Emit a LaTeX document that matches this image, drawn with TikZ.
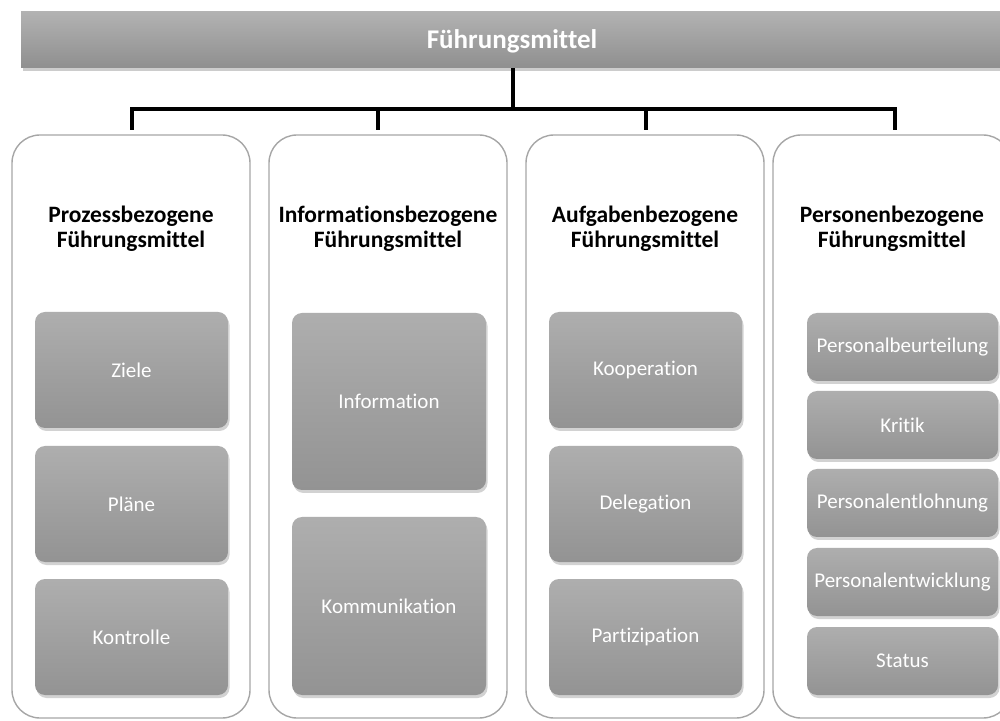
\documentclass[tikz,border=0pt]{standalone}
\usepackage{fontspec}
\setmainfont{Carlito}[Ligatures={NoCommon}]
\usetikzlibrary{shadows}
\definecolor{colborder}{HTML}{A6A6A6}
\definecolor{itemtop}{HTML}{AEAEAE}
\definecolor{itembot}{HTML}{939393}
\definecolor{bartop}{HTML}{B2B2B2}
\definecolor{barbot}{HTML}{8F8F8F}
\tikzset{
  x=1pt, y=1pt,
  colbox/.style={draw=colborder, line width=1.4pt, rounded corners=28pt, fill=white,
    minimum width=238pt, minimum height=583pt, inner sep=0pt},
  coltitle/.style={align=center, inner sep=0pt, text=black,
    font=\fontsize{23.5}{25}\selectfont\bfseries},
  item/.style={rounded corners=10pt, top color=itemtop, bottom color=itembot,
    text=white, inner sep=0pt, font=\fontsize{21}{24}\selectfont,
    drop shadow={shadow xshift=1.5pt, shadow yshift=-3pt, opacity=0.35}},
  topbar/.style={top color=bartop, bottom color=barbot, inner sep=0pt,
    minimum width=990pt, minimum height=56pt,
    drop shadow={shadow xshift=1.5pt, shadow yshift=-3pt, opacity=0.4}},
  toplabel/.style={text=white, inner sep=0pt, font=\fontsize{27}{30}\selectfont\bfseries},
  conn/.style={draw=black, line width=3.5pt}
}
\begin{document}
\begin{tikzpicture}
\clip (0,0) rectangle (1000,720);
\fill[white] (0,0) rectangle (1000,720);

% top bar
\node[topbar] (top) at (516,680) {};
\node[toplabel] (toplbl) at (512,679) {Führungsmittel};

% columns
\node[colbox] (c1) at (131,293.5) {};
\node[colbox] (c2) at (388,293.5) {};
\node[colbox] (c3) at (645,293.5) {};
\node[colbox] (c4) at (892,293.5) {};

% connectors
\coordinate (j) at (513,611);
\coordinate (d1) at (132,590);
\coordinate (d2) at (378,590);
\coordinate (d3) at (646,590);
\coordinate (d4) at (895,590);
\draw[conn] (top.south -| j) -- (j);
\draw[conn] (d1) -- (d1 |- j) -- (d4 |- j) -- (d4);
\draw[conn] (d2 |- j) -- (d2);
\draw[conn] (d3 |- j) -- (d3);

% titles
\node[coltitle] (t1) at (131,491) {Prozessbezogene\\Führungsmittel};
\node[coltitle] (t2) at (388,491) {Informationsbezogene\\Führungsmittel};
\node[coltitle] (t3) at (645,491) {Aufgabenbezogene\\Führungsmittel};
\node[coltitle] (t4) at (892,491) {Personenbezogene\\Führungsmittel};

% column 1
\node[item, minimum width=193pt, minimum height=116pt] (z) at (131.5,350) {Ziele};
\node[item, minimum width=193pt, minimum height=116pt] (p) at (131.5,216) {Pläne};
\node[item, minimum width=193pt, minimum height=116pt] (k) at (131.5,83) {Kontrolle};

% column 2
\node[item, minimum width=194pt, minimum height=177pt] (inf) at (389,318.5) {Information};
\node[item, minimum width=194pt, minimum height=178pt] (kom) at (389,114) {Kommunikation};

% column 3
\node[item, minimum width=193pt, minimum height=116pt] (koo) at (645.5,350) {Kooperation};
\node[item, minimum width=193pt, minimum height=116pt] (del) at (645.5,216) {Delegation};
\node[item, minimum width=193pt, minimum height=116pt] (par) at (645.5,83) {Partizipation};

% column 4
\node[item, minimum width=191pt, minimum height=68pt] (pb) at (902.5,373) {Personalbeurteilung};
\node[item, minimum width=191pt, minimum height=68pt] (kr) at (902.5,295) {Kritik};
\node[item, minimum width=191pt, minimum height=68pt] (pe) at (902.5,217) {Personalentlohnung};
\node[item, minimum width=191pt, minimum height=68pt] (pw) at (902.5,138) {Personalentwicklung};
\node[item, minimum width=191pt, minimum height=68pt] (st) at (902.5,59) {Status};
\end{tikzpicture}
\end{document}
